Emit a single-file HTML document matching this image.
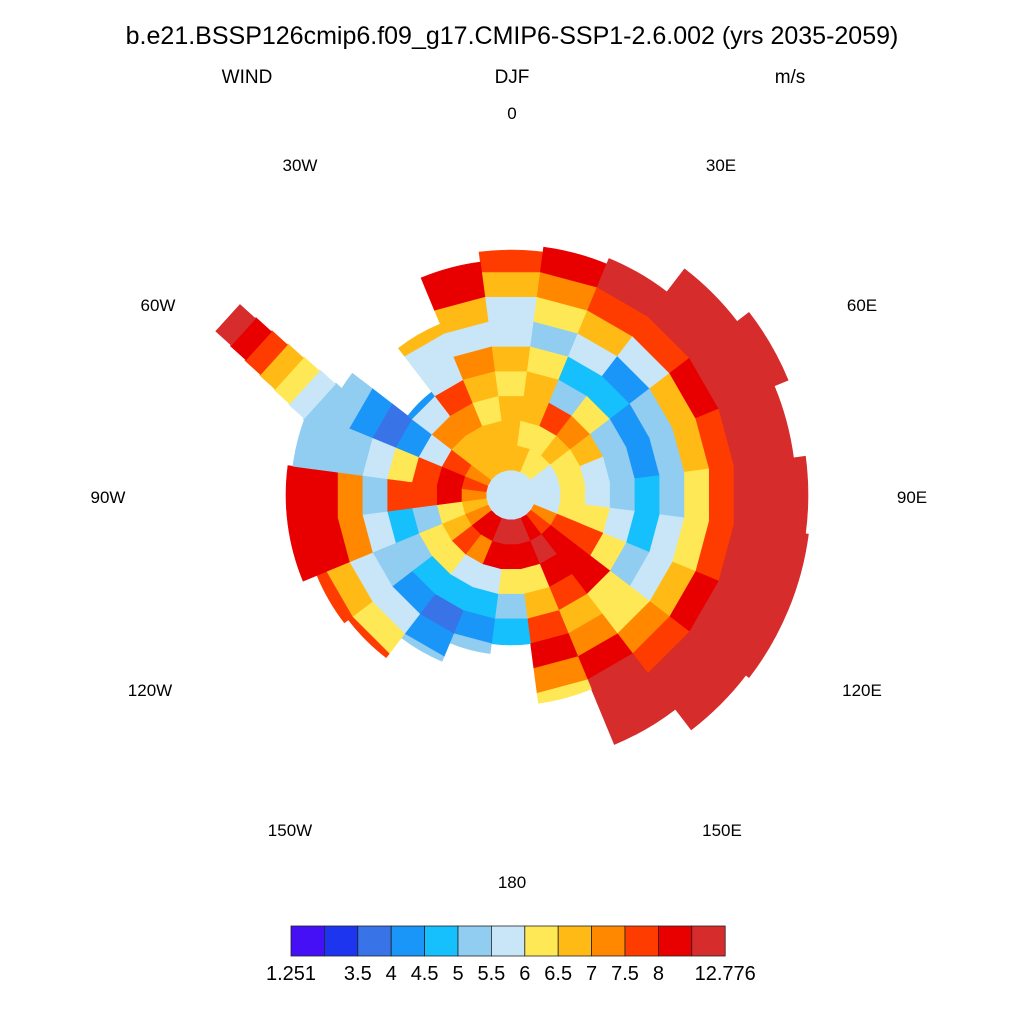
<!DOCTYPE html>
<html><head><meta charset="utf-8">
<style>
body{margin:0;background:#fff;}
svg{display:block;font-family:"Liberation Sans",sans-serif;}
</style></head>
<body>
<svg id="chart" width="1024" height="1024" viewBox="0 0 1024 1024">
<text x="512" y="44" font-size="25" text-anchor="middle">b.e21.BSSP126cmip6.f09_g17.CMIP6-SSP1-2.6.002 (yrs 2035-2059)</text>
<text x="247" y="83" font-size="19" text-anchor="middle">WIND</text>
<text x="512" y="83" font-size="19" text-anchor="middle">DJF</text>
<text x="790" y="83" font-size="19" text-anchor="middle">m/s</text>
<g id="cells"></g>
<g id="lonlabels"></g>
<g id="cbar"></g>
</svg>
<script>
const levels=[3,3.5,4,4.5,5,5.5,6,6.5,7,7.5,8,8.5];
const colors=["#4510f5","#1e35f0","#3873e8","#1a96f8","#15c0fc","#90cdf0","#c8e6f8","#ffe855","#ffba15","#ff8800","#ff3c00","#e80000","#d62c2c"];
const cbarLabels=["1.251","","3.5","4","4.5","5","5.5","6","6.5","7","7.5","8","","12.776"];
const sectorLons=[0,15,30,45,60,75,90,105,120,135,150,165,180,195,210,225,240,255,270,285,300,315,330,345];
const edgeRadius=[245,250,256,285,305,285,297,300,300,296,270,210,150,160,180,205,210,225,225,220,200,130,185,235];
const speeds=[
[5.7,6.7,6.7,6.7,6.2,6.7,5.7,5.7,6.7,7.7,8.2,8.2],
[5.7,6.7,6.2,6.7,6.7,6.2,5.2,6.2,7.2,8.2,10,10],
[5.7,6.2,6.2,7.7,5.2,4.7,5.7,6.7,7.7,10,10,10],
[5.7,6.2,6.7,7.2,6.2,4.7,4.2,5.7,7.7,10,10,10],
[5.7,5.7,6.2,6.7,5.2,4.2,5.2,6.7,8.2,10,10,10],
[5.7,5.7,6.2,5.7,5.2,4.2,5.2,6.7,7.7,10,10,10],
[5.7,5.7,6.2,5.7,5.2,4.7,5.2,6.2,7.7,10,10,10],
[5.7,5.7,6.2,6.2,5.7,4.7,5.7,6.2,7.7,10,10,10],
[5.7,7.2,7.7,7.7,6.2,5.2,5.7,6.7,8.2,10,10,10],
[5.7,7.7,8.2,8.2,8.2,6.2,6.2,7.2,7.7,10,10,10],
[5.7,8.2,10,8.2,7.7,6.7,7.2,8.2,10,10,10,10],
[5.7,10,8.2,6.2,6.7,7.7,8.2,7.2,6.2,6.2,6.2,6.2],
[5.7,10,8.2,6.2,5.2,4.7,4.2,4.2,4.2,4.2,4.2,4.2],
[5.7,10,8.2,5.7,4.7,4.2,5.2,5.2,5.2,5.2,5.2,5.2],
[5.7,8.2,7.2,5.7,4.7,3.7,4.2,5.2,5.2,5.2,5.2,5.2],
[5.7,8.2,7.7,6.2,4.7,4.2,5.7,6.2,7.7,7.7,7.7,7.7],
[5.7,7.2,6.7,6.2,5.2,5.2,5.7,6.7,7.7,8.2,8.2,8.2],
[5.7,6.7,6.2,5.2,4.7,5.7,7.2,8.2,8.2,8.2,8.2,8.2],
[5.7,7.2,8.2,7.7,7.7,5.2,7.2,8.2,8.2,8.2,8.2,8.2],
[5.7,7.7,8.2,7.7,6.2,5.7,5.2,5.2,5.2,5.2,5.2,5.2],
[5.7,7.2,7.7,5.7,4.2,3.7,4.2,5.2,5.2,5.7,5.7,5.7],
[5.7,6.7,6.7,7.2,5.7,4.2,4.2,4.2,4.2,4.2,4.2,4.2],
[5.7,6.7,6.7,7.2,7.7,5.7,5.7,6.7,7.7,7.7,7.7,7.7],
[5.7,6.7,6.7,6.2,6.7,7.2,5.7,6.7,8.2,8.2,8.2,8.2]
];
const peninsulaSpeeds=[5.2,5.7,6.2,6.7,7.7,8.2,10];
const lonLabels=["0","30E","60E","90E","120E","150E","180","150W","120W","90W","60W","30W"];
const lonLabelX=[512,721,862,912,862,722,512,290,150,108,158,300];
const lonLabelY=[119,171,311,503,696,836,888,836,696,503,311,171];

const NS="http://www.w3.org/2000/svg";
const cx=511,cy=495,ringW=25,sectorW=15;
function colorOf(v){let i=0;while(i<levels.length&&v>=levels[i])i++;return colors[i];}
function pt(lon,r){const a=lon*Math.PI/180;return [cx+r*Math.sin(a),cy-r*Math.cos(a)];}
const cells=document.getElementById('cells');
sectorLons.forEach((lon,s)=>{
  const a0=lon-sectorW/2,a1=lon+sectorW/2;
  speeds[s].forEach((v,k)=>{
    const r0=k*ringW;let r1=(k+1)*ringW;
    if(r0>=edgeRadius[s])return;
    r1=Math.min(r1,edgeRadius[s]);
    const p=[pt(a0,r0),pt(a1,r0),pt(a1,r1),pt(a0,r1)];
    const el=document.createElementNS(NS,'path');
    el.setAttribute('d',`M${p[0][0]},${p[0][1]} L${p[1][0]},${p[1][1]} L${p[2][0]},${p[2][1]} A${r1},${r1} 0 0 0 ${p[3][0]},${p[3][1]} Z`);
    el.setAttribute('fill',colorOf(v));
    el.setAttribute('stroke',colorOf(v));
    el.setAttribute('stroke-width','0.6');
    
    
    cells.appendChild(el);
  });
});
const p0=[335,415],p1=[228,318],halfW=24;
const dx=p1[0]-p0[0],dy=p1[1]-p0[1],L=Math.hypot(dx,dy),nx=-dy/L,ny=dx/L;
peninsulaSpeeds.forEach((v,i)=>{
  const t0=i/peninsulaSpeeds.length,t1=(i+1)/peninsulaSpeeds.length;
  const w=halfW*(1-0.3*t0);
  const a=[p0[0]+dx*t0,p0[1]+dy*t0],b=[p0[0]+dx*t1,p0[1]+dy*t1];
  const el=document.createElementNS(NS,'polygon');
  el.setAttribute('points',`${a[0]+nx*w},${a[1]+ny*w} ${b[0]+nx*w},${b[1]+ny*w} ${b[0]-nx*w},${b[1]-ny*w} ${a[0]-nx*w},${a[1]-ny*w}`);
  el.setAttribute('fill',colorOf(v));
  el.setAttribute('stroke',colorOf(v));
  
  
  cells.appendChild(el);
});
const hole=document.createElementNS(NS,'circle');
hole.setAttribute('cx',cx-4);hole.setAttribute('cy',cy);hole.setAttribute('r',17);
hole.setAttribute('fill','#c8e6f8');


cells.appendChild(hole);
const lg=document.getElementById('lonlabels');
lonLabels.forEach((t,i)=>{
  const el=document.createElementNS(NS,'text');
  el.setAttribute('x',lonLabelX[i]);el.setAttribute('y',lonLabelY[i]);
  el.setAttribute('font-size','17');el.setAttribute('text-anchor','middle');
  
  
  el.textContent=t;lg.appendChild(el);
});
const cb=document.getElementById('cbar');
const bx=291,bw=33.4,by=926,bh=30;
colors.forEach((c,i)=>{
  const el=document.createElementNS(NS,'rect');
  el.setAttribute('x',bx+i*bw);el.setAttribute('y',by);el.setAttribute('width',bw);el.setAttribute('height',bh);
  el.setAttribute('fill',c);el.setAttribute('stroke','#222');el.setAttribute('stroke-width','0.8');
  
  
  cb.appendChild(el);
});
cbarLabels.forEach((t,i)=>{
  if(!t)return;
  const el=document.createElementNS(NS,'text');
  el.setAttribute('x',bx+i*bw);el.setAttribute('y',980);
  el.setAttribute('font-size','20');el.setAttribute('text-anchor','middle');
  
  
  el.textContent=t;cb.appendChild(el);
});
</script>
</body></html>
